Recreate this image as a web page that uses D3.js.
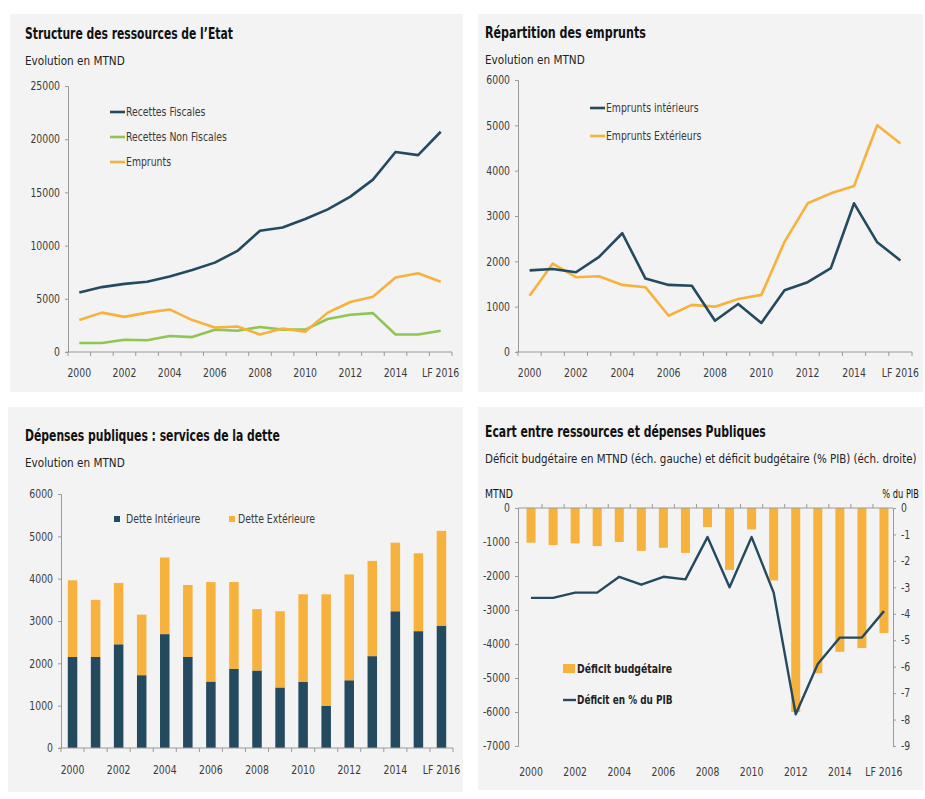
<!DOCTYPE html>
<html><head><meta charset="utf-8">
<script src="https://cdn.jsdelivr.net/npm/d3@7"></script>
<style>
body{margin:0;background:#fff;}
svg text{font-family:"Liberation Sans Narrow","DejaVu Sans Condensed","Roboto Condensed",sans-serif;}
</style></head>
<body><svg id="c" width="925" height="799"></svg>
<script>
// ---------- DATA ----------
const years = ["2000","2001","2002","2003","2004","2005","2006","2007","2008","2009","2010","2011","2012","2013","2014","2015","LF 2016"];
const yearTickLabels = ["2000","2002","2004","2006","2008","2010","2012","2014","LF 2016"];

const recettesFiscales    = [5600,6100,6400,6600,7100,7700,8400,9500,11400,11700,12500,13400,14600,16200,18800,18500,20700];
const recettesNonFiscales = [850,850,1150,1100,1500,1400,2100,2000,2350,2100,2100,3100,3500,3650,1650,1650,2000];
const emprunts            = [3000,3700,3300,3700,4000,3000,2300,2400,1650,2200,1900,3700,4700,5200,7000,7400,6600];
const ticks1 = [0,5000,10000,15000,20000,25000];

const empruntsInterieurs  = [1800,1830,1760,2100,2620,1620,1480,1460,690,1060,640,1360,1540,1850,3280,2420,2020];
const empruntsExterieurs  = [1240,1950,1650,1670,1480,1430,800,1040,1000,1170,1260,2430,3280,3500,3660,5000,4600];
const ticks2 = [0,1000,2000,3000,4000,5000,6000];

const detteInterieure = [2150,2150,2450,1720,2690,2150,1570,1870,1830,1430,1560,1000,1600,2170,3230,2760,2890];
const detteExterieure = [1810,1350,1450,1430,1810,1700,2350,2050,1450,1800,2070,2630,2500,2250,1620,1840,2240];
const ticks3 = [0,1000,2000,3000,4000,5000,6000];

const deficitMTND = [-1020,-1090,-1040,-1120,-1000,-1260,-1170,-1320,-560,-1820,-630,-2130,-6000,-4860,-4230,-4120,-3680];
const deficitPIB  = [-3.4,-3.4,-3.2,-3.2,-2.6,-2.9,-2.6,-2.7,-1.1,-3.0,-1.1,-3.2,-7.8,-5.9,-4.9,-4.9,-3.9];
const ticks4L = [0,-1000,-2000,-3000,-4000,-5000,-6000,-7000];
const ticks4R = [0,-1,-2,-3,-4,-5,-6,-7,-8,-9];

// ---------- STYLE ----------
const DARK = "#234a5e", ORANGE = "#f6b23c", GREEN = "#8fc653", AXIS = "#9a9a9a", TXT = "#3a3a3a", PANEL = "#f3f3f3";
const FONT = '"Liberation Sans Narrow","DejaVu Sans Condensed",sans-serif';

const svg = d3.select("#c");

[[10,14,453,378],[478,14,445,378],[8,407,455,385],[478,407,445,383]].forEach(p=>{
  svg.append("rect").attr("x",p[0]).attr("y",p[1]).attr("width",p[2]).attr("height",p[3]).attr("fill",PANEL);
});

function titles(x, y, t, s, titleLen, subLen){
  svg.append("text").attr("x",x).attr("y",y).text(t).attr("data-len",titleLen)
    .attr("font-size",16).attr("font-weight","bold").attr("fill","#111");
  const st = svg.append("text").attr("x",x).attr("y",y+26).text(s).attr("data-sq",0.93)
    .attr("font-size",12.5).attr("fill","#222");
  if (subLen) st.attr("data-len",subLen);
}

function styleAxis(a){
  a.select(".domain").attr("stroke",AXIS);
  a.selectAll(".tick line").attr("stroke",AXIS);
  a.selectAll(".tick text").attr("fill",TXT).attr("font-size",11.5).style("font-family",FONT);
}

function yAxisLeft(g, y, x0, ticks){
  const ax = d3.axisLeft(y).tickValues(ticks).tickSize(3).tickPadding(5).tickFormat(d=>String(d));
  const a = g.append("g").attr("transform",`translate(${x0},0)`).call(ax);
  styleAxis(a);
  return a;
}

function xAxis(g, x, yLine, yLabel, tickDir){
  const r = x.range();
  g.append("line").attr("x1",r[0]-2).attr("x2",r[1]).attr("y1",yLine).attr("y2",yLine).attr("stroke",AXIS);
  const bounds = years.map(c=>x(c)).concat([x(years[years.length-1])+x.bandwidth()]);
  g.selectAll(".xt").data(bounds).enter().append("line")
    .attr("x1",d=>d).attr("x2",d=>d).attr("y1",yLine).attr("y2",yLine+tickDir).attr("stroke",AXIS);
  g.selectAll(".xl").data(yearTickLabels).enter().append("text")
    .attr("x",d=>x(d)+x.bandwidth()/2).attr("y",yLabel)
    .attr("text-anchor","middle").attr("font-size",11.5).attr("fill",TXT).text(d=>d);
}

function lineSeries(g, x, y, vals, color, w){
  const ln = d3.line().x((d,i)=>x(years[i])+x.bandwidth()/2).y(d=>y(d));
  g.append("path").datum(vals).attr("d",ln).attr("fill","none").attr("stroke",color)
    .attr("stroke-width",w||2.6).attr("stroke-linejoin","round");
}

function legendLine(g, x, y, color, label){
  g.append("line").attr("x1",x).attr("x2",x+15).attr("y1",y).attr("y2",y).attr("stroke",color).attr("stroke-width",2.6);
  g.append("text").attr("x",x+16).attr("y",y+4).text(label).attr("font-size",11.5).attr("fill",TXT);
}

// ---------- Panel 1 ----------
{
  const g = svg.append("g");
  titles(25,39,"Structure des ressources de l’Etat","Evolution en MTND",208);
  const x = d3.scaleBand().domain(years).range([68,452]);
  const y = d3.scaleLinear().domain([0,25000]).range([352,86]);
  yAxisLeft(g,y,68,ticks1);
  xAxis(g,x,352,377,4);
  lineSeries(g,x,y,recettesNonFiscales,GREEN);
  lineSeries(g,x,y,emprunts,ORANGE);
  lineSeries(g,x,y,recettesFiscales,DARK);
  legendLine(g,110,112,DARK,"Recettes Fiscales");
  legendLine(g,110,137,GREEN,"Recettes Non Fiscales");
  legendLine(g,110,162,ORANGE,"Emprunts");
}

// ---------- Panel 2 ----------
{
  const g = svg.append("g");
  titles(485,38,"Répartition des emprunts","Evolution en MTND",161);
  const x = d3.scaleBand().domain(years).range([518,912]);
  const y = d3.scaleLinear().domain([0,6000]).range([352,80]);
  yAxisLeft(g,y,518,ticks2);
  xAxis(g,x,352,377,4);
  lineSeries(g,x,y,empruntsExterieurs,ORANGE);
  lineSeries(g,x,y,empruntsInterieurs,DARK);
  legendLine(g,590,108,DARK,"Emprunts intérieurs");
  legendLine(g,590,136,ORANGE,"Emprunts Extérieurs");
}

// ---------- Panel 3 ----------
{
  const g = svg.append("g");
  titles(25,441,"Dépenses publiques : services de la dette","Evolution en MTND",255);
  const x = d3.scaleBand().domain(years).range([61,453]);
  const y = d3.scaleLinear().domain([0,6000]).range([748,494]);
  yAxisLeft(g,y,61,ticks3);
  const bw = 9.5;
  const stack = d3.stack().keys(["int","ext"])(years.map((c,i)=>({c, int:detteInterieure[i], ext:detteExterieure[i]})));
  const cols = [DARK, ORANGE];
  stack.forEach((s,k)=>{
    g.selectAll(".b"+k).data(s).enter().append("rect")
      .attr("x",d=>x(d.data.c)+x.bandwidth()/2-bw/2).attr("width",bw)
      .attr("y",d=>y(d[1])).attr("height",d=>y(d[0])-y(d[1])).attr("fill",cols[k]);
  });
  xAxis(g,x,748,774,4);
  g.append("rect").attr("x",114).attr("y",516).attr("width",6).attr("height",6).attr("fill",DARK);
  g.append("text").attr("x",126).attr("y",523).text("Dette Intérieure").attr("font-size",11.5).attr("fill",TXT);
  g.append("rect").attr("x",229).attr("y",516).attr("width",6).attr("height",6).attr("fill",ORANGE);
  g.append("text").attr("x",238).attr("y",523).text("Dette Extérieure").attr("font-size",11.5).attr("fill",TXT);
}

// ---------- Panel 4 ----------
{
  const g = svg.append("g");
  titles(485,437,"Ecart entre ressources et dépenses Publiques","Déficit budgétaire en MTND (éch. gauche) et déficit budgétaire (% PIB) (éch. droite)",281,432);
  const x = d3.scaleBand().domain(years).range([520,895]);
  const yL = d3.scaleLinear().domain([-7000,0]).range([746,508]);
  const yR = d3.scaleLinear().domain([-9,0]).range([746,508]);
  yAxisLeft(g,yL,518,ticks4L);
  const axR = d3.axisRight(yR).tickValues(ticks4R).tickSize(3).tickPadding(5).tickFormat(d=>String(d));
  const a = g.append("g").attr("transform","translate(893,0)").call(axR);
  styleAxis(a);
  const bw = 9;
  g.selectAll(".bd").data(deficitMTND).enter().append("rect")
    .attr("x",(d,i)=>x(years[i])+x.bandwidth()/2-bw/2).attr("width",bw)
    .attr("y",yL(0)).attr("height",d=>yL(d)-yL(0)).attr("fill",ORANGE);
  g.append("line").attr("x1",518).attr("x2",893).attr("y1",508).attr("y2",508).attr("stroke",AXIS);
  const bounds = years.slice(1).map(c=>x(c));
  g.selectAll(".xt").data(bounds).enter().append("line")
    .attr("x1",d=>d).attr("x2",d=>d).attr("y1",508).attr("y2",504).attr("stroke",AXIS);
  g.selectAll(".xl").data(yearTickLabels).enter().append("text")
    .attr("x",d=>x(d)+x.bandwidth()/2).attr("y",776)
    .attr("text-anchor","middle").attr("font-size",11.5).attr("fill",TXT).text(d=>d);
  const ln = d3.line().x((d,i)=>x(years[i])+x.bandwidth()/2).y(d=>yR(d));
  g.append("path").datum(deficitPIB).attr("d",ln).attr("fill","none").attr("stroke",DARK)
    .attr("stroke-width",2.4).attr("stroke-linejoin","round");
  g.append("text").attr("x",485).attr("y",498).text("MTND").attr("font-size",11.5).attr("fill","#111");
  g.append("text").attr("x",919).attr("y",498).attr("text-anchor","end").attr("data-sq",0.8).text("% du PIB").attr("font-size",11.5).attr("fill","#111");
  g.append("rect").attr("x",563).attr("y",664).attr("width",12).attr("height",9).attr("fill",ORANGE);
  g.append("text").attr("x",577).attr("y",673).text("Déficit budgétaire").attr("font-size",11.5).attr("font-weight","bold").attr("fill","#222");
  g.append("line").attr("x1",563).attr("x2",576).attr("y1",700).attr("y2",700).attr("stroke",DARK).attr("stroke-width",2.4);
  g.append("text").attr("x",577).attr("y",704).attr("data-sq",0.86).text("Déficit en % du PIB").attr("font-size",11.5).attr("font-weight","bold").attr("fill","#222");
}

// condense text horizontally (scale about its anchor x) to mimic the narrow typeface
svg.selectAll("text").each(function(){
  const len = this.getAttribute("data-len");
  const nat = this.getComputedTextLength();
  const f = len ? (+len / nat) : +(this.getAttribute("data-sq") || 0.9);
  const ax = +(this.getAttribute("x") || 0);
  this.setAttribute("transform", `translate(${ax},0) scale(${f.toFixed(4)},1) translate(${-ax},0)`);
});
</script></body></html>
